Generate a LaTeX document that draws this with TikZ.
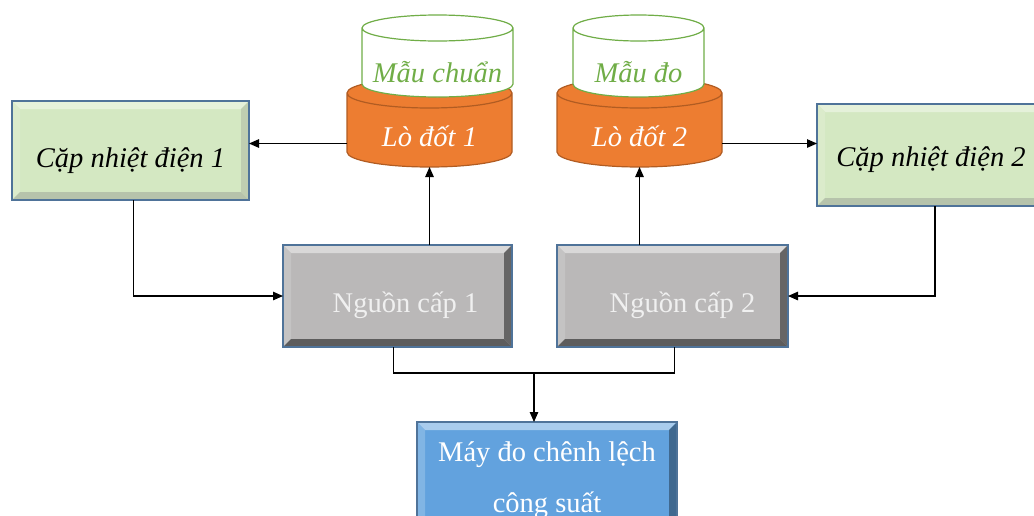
\documentclass[tikz,border=0pt]{standalone}
\usepackage{fontspec}
\setmainfont{Liberation Serif}
\usetikzlibrary{positioning,arrows.meta}

\definecolor{capfill}{HTML}{D4E8C2}
\definecolor{capedge}{HTML}{4F7399}
\definecolor{nguonfill}{HTML}{BAB8B8}
\definecolor{mayfill}{HTML}{62A2DE}
\definecolor{lofill}{HTML}{ED7D31}
\definecolor{loedge}{HTML}{B15C22}
\definecolor{mauedge}{HTML}{70AD47}

% cylinder drawn over a named (invisible) node: node, fill, edge, half width, cap radius
\newcommand{\drum}[5]{%
  \path[fill=#2, draw=#3, line width=1.2pt]
    ([yshift=-#5pt]#1.north west) -- ([yshift=#5pt]#1.south west)
    arc[start angle=180, end angle=360, x radius=#4pt, y radius=#5pt]
    -- ([yshift=-#5pt]#1.north east)
    arc[start angle=0, end angle=180, x radius=#4pt, y radius=#5pt] -- cycle
    ([yshift=-#5pt]#1.north) ellipse[x radius=#4pt, y radius=#5pt];
}

\tikzset{
  arr/.style={-{Triangle[length=10pt,width=8.5pt]}, line width=1.2pt},
  wire/.style={line width=1.2pt},
  bigfont/.style={font=\fontsize{28.5pt}{51pt}\selectfont},
  bevel/.style n args={4}{path picture={
    \fill[#1] (path picture bounding box.north west) -- (path picture bounding box.north east)
      -- ([shift={(-8pt,-8pt)}]path picture bounding box.north east)
      -- ([shift={(8pt,-8pt)}]path picture bounding box.north west) -- cycle;
    \fill[#2] (path picture bounding box.north west) -- ([shift={(8pt,-8pt)}]path picture bounding box.north west)
      -- ([shift={(8pt,8pt)}]path picture bounding box.south west) -- (path picture bounding box.south west) -- cycle;
    \fill[#3] (path picture bounding box.north east) -- ([shift={(-8pt,-8pt)}]path picture bounding box.north east)
      -- ([shift={(-8pt,8pt)}]path picture bounding box.south east) -- (path picture bounding box.south east) -- cycle;
    \fill[#4] (path picture bounding box.south west) -- ([shift={(8pt,8pt)}]path picture bounding box.south west)
      -- ([shift={(-8pt,8pt)}]path picture bounding box.south east) -- (path picture bounding box.south east) -- cycle;
  }},
  panel/.style={draw=capedge, line width=1.2pt, inner sep=0pt, outer sep=0pt, bigfont, align=center},
  capbox/.style={panel, fill=capfill, bevel={capfill!60!white}{capfill!85!white}{capfill!75!gray}{capfill!65!gray},
    text=black, font=\fontsize{28.5pt}{51pt}\selectfont\itshape},
  nguonbox/.style={panel, fill=nguonfill, bevel={nguonfill!55!white}{nguonfill!85!white}{nguonfill!55!black}{nguonfill!50!black},
    text=white!94!black, text height=32pt, text depth=0pt},
  maybox/.style={panel, fill=mayfill, bevel={mayfill!55!white}{mayfill!80!white}{mayfill!65!black}{mayfill!60!black},
    text=white},
  drumnode/.style={inner sep=0pt, outer sep=0pt},
  lotext/.style={text=white, font=\fontsize{28.5pt}{34pt}\selectfont\itshape},
  mautext/.style={text=mauedge, font=\fontsize{28.5pt}{34pt}\selectfont\itshape},
}

\begin{document}
\begin{tikzpicture}[x=1pt, y=-1pt]
\clip (0,0) rectangle (1034,515);

% thermocouples
\node[capbox, minimum width=237pt, minimum height=99pt, text height=33pt, text depth=0pt] (cap1) at (130.5,150.5) {Cặp nhiệt điện 1};
\node[capbox, minimum width=228pt, minimum height=102pt, text height=22pt, text depth=0pt] (cap2) at (931,155) {Cặp nhiệt điện 2};

% furnaces with samples on top
\node[drumnode, minimum width=165pt, minimum height=89pt] (lo1) at (429.5,122.5) {};
\node[drumnode, minimum width=151pt, minimum height=82pt] (mau1) at (437.5,56) {};
\node[drumnode, minimum width=165pt, minimum height=89pt] (lo2) at (639.5,122.5) {};
\node[drumnode, minimum width=131pt, minimum height=82pt] (mau2) at (638.5,56) {};
\drum{lo1}{lofill}{loedge}{82.5}{15}
\drum{mau1}{white}{mauedge}{75.5}{13}
\drum{lo2}{lofill}{loedge}{82.5}{15}
\drum{mau2}{white}{mauedge}{65.5}{13}
\node[lotext] (lo1txt) at ([yshift=-14pt]lo1.center) {Lò đốt 1};
\node[lotext] (lo2txt) at ([yshift=-14pt]lo2.center) {Lò đốt 2};
\node[mautext] (mau1txt) at ([yshift=-16pt]mau1.center) {Mẫu chuẩn};
\node[mautext] (mau2txt) at ([yshift=-16pt]mau2.center) {Mẫu đo};

% power supplies and meter
\node[nguonbox, minimum width=229pt, minimum height=102pt] (ng1) at (397.5,296) {\hspace*{16pt}Nguồn cấp 1};
\node[nguonbox, minimum width=231pt, minimum height=102pt] (ng2) at (672.5,296) {\hspace*{20pt}Nguồn cấp 2};
\node[maybox, minimum width=260pt, minimum height=116pt] (may) at (547,480) {Máy đo chênh lệch\\công suất};

% connections
\draw[arr] ([yshift=-21pt]lo1.west) coordinate (a1) -- (a1 -| cap1.east);
\draw[arr] ([yshift=-21pt]lo2.east) coordinate (a2) -- (a2 -| cap2.west);
\draw[arr] (ng1.north -| lo1.south) -- (lo1.south);
\draw[arr] (ng2.north -| lo2.south) -- (lo2.south);
\draw[arr] ([xshift=3pt]cap1.south) |- (ng1.west);
\draw[arr] ([xshift=4pt]cap2.south) |- (ng2.east);
\coordinate (jn) at (534,373);
\draw[wire] ([xshift=-4pt]ng1.south) |- (jn) -| ([xshift=2pt]ng2.south);
\draw[arr] (jn) -- (jn |- may.north);
\end{tikzpicture}
\end{document}
